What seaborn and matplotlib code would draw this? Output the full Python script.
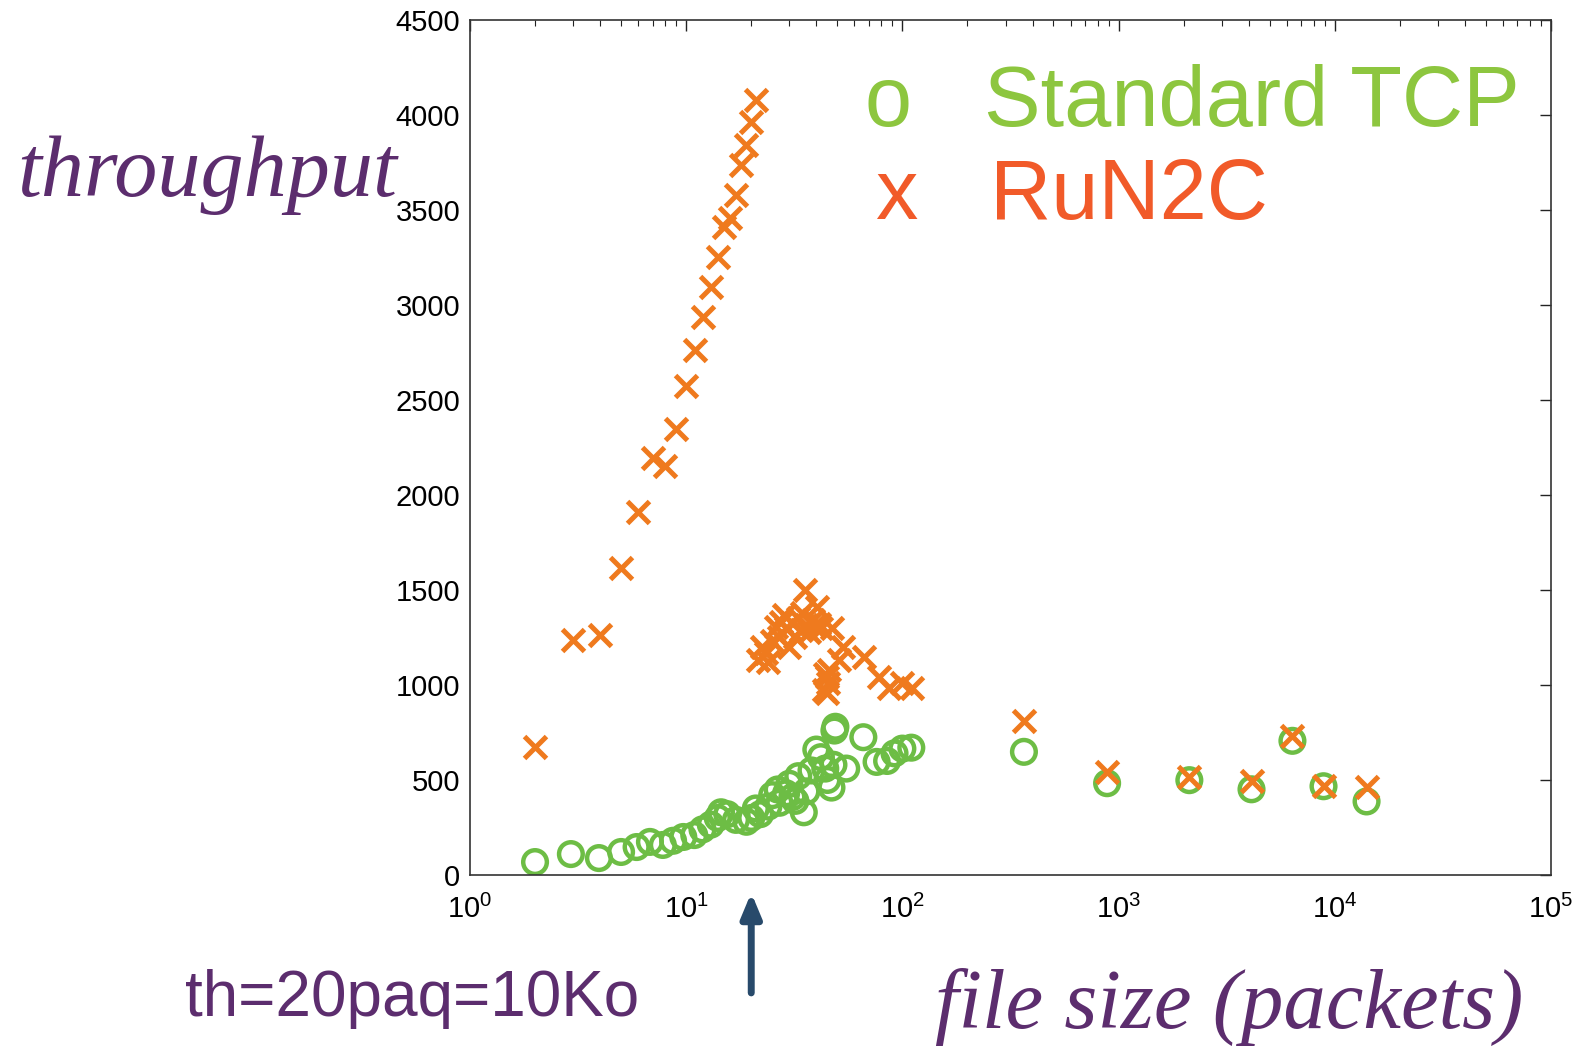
import numpy as np
import pandas as pd
import seaborn as sns
import matplotlib.pyplot as plt

# Standard TCP (circles): file size in packets, throughput
tcp_size = [2, 2.93, 3.95, 5, 5.9, 6.8, 7.8, 8.7, 9.7, 10.9, 11.9, 13, 14, 14.5, 15.5,
            17, 19, 20, 21, 22, 24, 25, 26.5, 27, 29, 30, 31, 32, 33, 35, 36, 38,
            40, 42, 44, 45, 47, 48, 49, 48.5, 55, 66, 76, 85, 92, 100, 110,
            365, 885, 2125, 4120, 6370, 8870, 14030]
tcp_thr = [68, 110, 89, 121, 147, 174, 158, 180, 200, 210, 240, 265, 300, 330, 320,
           290, 280, 300, 350, 320, 360, 420, 450, 380, 430, 480, 410, 390, 520, 330, 440, 550,
           660, 620, 560, 500, 460, 580, 780, 760, 560, 725, 595, 600, 640, 665, 670,
           648, 483, 499, 451, 706, 467, 387]

# RuN2C (crosses)
run_size = [2, 3, 4, 5, 6, 7, 8, 9, 10, 11, 12, 13, 14, 15, 16, 17, 18, 19, 20, 21,
            21.4, 22.5, 23.5, 24, 25, 26, 27, 27.5, 28.5, 29, 30, 31, 32, 33, 34, 34.5,
            35.6, 36, 37, 38.5, 39, 40.5, 41, 42, 43.6, 44, 44.6, 45, 45.5, 46, 47.5,
            51, 52.9, 66.7, 78, 87, 100, 111,
            365, 885, 2125, 4120, 6370, 8870, 14030]
run_thr = [674, 1237, 1263, 1616, 1911, 2195, 2153, 2347, 2574, 2763, 2937, 3095, 3253,
           3410, 3458, 3579, 3737, 3842, 3965, 4079,
           1130, 1200, 1168, 1120, 1230, 1305, 1253, 1330, 1368, 1300, 1200, 1326, 1253,
           1350, 1290, 1380, 1500, 1316, 1280, 1340, 1310, 1411, 1320, 1300, 974, 1060,
           1042, 960, 1010, 1080, 1300, 1130, 1200, 1147, 1042, 984, 1010, 984,
           812, 541, 515, 494, 732, 467, 462]

y_ticks = list(range(0, 4501, 500))

green = '#6DBD45'
orange = '#EF7A1E'
purple = '#5C2D6E'

tcp = pd.DataFrame({'size': tcp_size, 'thr': tcp_thr})
run = pd.DataFrame({'size': run_size, 'thr': run_thr})

sns.set_theme(style='white')
plt.rcParams['font.family'] = ['Liberation Sans', 'DejaVu Sans']

fig = plt.figure(figsize=(15.77, 10.47), dpi=100)
ax = fig.add_axes([0.298, 0.1643, 0.6855, 0.8167])

sns.scatterplot(data=tcp, x='size', y='thr', ax=ax, marker='o', s=290,
                color=green, facecolors='none', edgecolor=green, linewidth=3.2, zorder=2)
sns.scatterplot(data=run, x='size', y='thr', ax=ax, marker='x', s=250,
                color=orange, linewidth=3.6, zorder=3)

ax.set_xscale('log')
ax.set_xlim(1, 1e5)
ax.set_ylim(0, 4500)
ax.set_yticks(y_ticks)
ax.set_xlabel('')
ax.set_ylabel('')

ax.tick_params(which='both', direction='in', top=True, right=True,
               labelsize=21, colors='#222222', labelcolor='black')
ax.tick_params(which='major', length=8, width=1)
ax.tick_params(axis='y', pad=7)
ax.tick_params(axis='x', pad=14)
ax.tick_params(which='minor', length=4, width=0.8)
for sp in ax.spines.values():
    sp.set_color('#333333')
    sp.set_linewidth(1.2)

# annotations
fig.text(0.011, 0.813, 'throughput', color=purple, fontsize=62,
         family='Liberation Serif', style='italic', va='baseline')
fig.text(0.593, 0.018, 'file size (packets)', color=purple, fontsize=61,
         family='Liberation Serif', style='italic', va='baseline')
fig.text(0.117, 0.030, 'th=20paq=10Ko', color=purple, fontsize=46, va='baseline')

fig.text(0.5485, 0.880, 'o', color='#8DC63F', fontsize=61, va='baseline')
fig.text(0.624, 0.880, 'Standard TCP', color='#8DC63F', fontsize=61, va='baseline')
fig.text(0.555, 0.791, 'x', color='#F15A29', fontsize=61, va='baseline')
fig.text(0.628, 0.791, 'RuN2C', color='#F15A29', fontsize=61, va='baseline')

ax.annotate('', xy=(20, 0.150), xytext=(20, 0.049),
            xycoords=('data', 'figure fraction'), textcoords=('data', 'figure fraction'),
            arrowprops=dict(arrowstyle='-|>,head_length=1.2,head_width=0.5',
                            color='#284A6B', lw=5))

fig.savefig('out.png', dpi=100, facecolor='white')
